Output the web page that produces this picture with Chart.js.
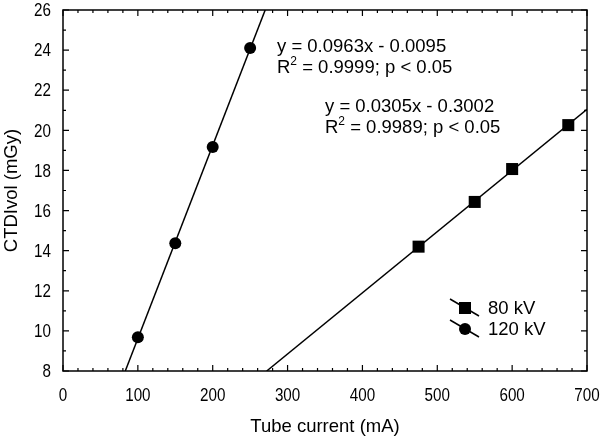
<!DOCTYPE html>
<html>
<head>
<meta charset="utf-8">
<script src="https://cdn.jsdelivr.net/npm/chart.js@4.4.1/dist/chart.umd.min.js"></script>
<style>
  html, body { margin: 0; padding: 0; background: #fff; }
  #wrap { width: 600px; height: 442px; }
</style>
</head>
<body>
<div id="wrap"><canvas id="graph"></canvas></div>
<script>
// values
const current80 = [475, 550, 600, 675];
const ctdi80 = [14.2, 16.43, 18.07, 20.26];
const current120 = [100, 150, 200, 250];
const ctdi120 = [9.68, 14.37, 19.17, 24.1];

// regression lines, end points where they leave the frame
const fit80X = [272.1, 700];
const fit80Y = [8, 21.05];
const fit120X = [83.2, 270.1];
const fit120Y = [8, 26];

const seriesNames = ['80 kV', '120 kV'];
const fitText = [
  ['y = 0.0963x - 0.0095', 'R', '2', ' = 0.9999; p < 0.05'],
  ['y = 0.0305x - 0.3002', 'R', '2', ' = 0.9989; p < 0.05']
];

const xMin = 0, xMax = 700, xMajor = 100, xMinor = 20;
const yMin = 8, yMax = 26, yMajor = 2, yMinor = 1;

const FONT = '"Liberation Sans", Arial, Helvetica, sans-serif';

function pts(xs, ys) {
  return xs.map((x, i) => ({ x: x, y: ys[i] }));
}

// tick labels in the figure are a condensed face: squeeze them sideways
function narrowText(ctx, text, x, y, align) {
  ctx.save();
  ctx.translate(x, y);
  ctx.scale(0.8, 1);
  ctx.textAlign = align;
  ctx.fillText(text, 0, 0);
  ctx.restore();
}

// frame, inward ticks on all four sides, tick labels, fit labels, legend
const decorations = {
  id: 'decorations',
  afterDraw(chart) {
    const ctx = chart.ctx;
    const a = chart.chartArea;
    const xs = chart.scales.x, ys = chart.scales.y;
    ctx.save();
    ctx.strokeStyle = '#000';
    ctx.fillStyle = '#000';
    ctx.lineWidth = 1.5;
    ctx.strokeRect(a.left, a.top, a.right - a.left, a.bottom - a.top);

    ctx.lineWidth = 1.2;
    ctx.beginPath();
    for (let v = xMin; v <= xMax; v += xMinor) {
      const px = xs.getPixelForValue(v);
      const len = v % xMajor === 0 ? 6 : 3;
      ctx.moveTo(px, a.bottom); ctx.lineTo(px, a.bottom - len);
      ctx.moveTo(px, a.top); ctx.lineTo(px, a.top + len);
    }
    for (let v = yMin; v <= yMax; v += yMinor) {
      const py = ys.getPixelForValue(v);
      const len = v % yMajor === 0 ? 6 : 3;
      ctx.moveTo(a.left, py); ctx.lineTo(a.left + len, py);
      ctx.moveTo(a.right, py); ctx.lineTo(a.right - len, py);
    }
    ctx.stroke();

    ctx.textBaseline = 'middle';
    ctx.font = '19px ' + FONT;
    xs.ticks.forEach(t => narrowText(ctx, t.label, xs.getPixelForValue(t.value), a.bottom + 25, 'center'));
    ys.ticks.forEach(t => narrowText(ctx, t.label, a.left - 12, ys.getPixelForValue(t.value) + 1, 'right'));

    // regression labels
    ctx.textAlign = 'left';
    const spots = [[a.left + 214, a.top + 37], [a.left + 262, a.top + 97]];
    fitText.forEach((t, i) => {
      const x = spots[i][0], y = spots[i][1];
      ctx.font = '18.5px ' + FONT;
      ctx.fillText(t[0], x, y);
      ctx.fillText(t[1], x, y + 21);
      let w = ctx.measureText(t[1]).width;
      ctx.font = '12px ' + FONT;
      ctx.fillText(t[2], x + w, y + 15);
      w += ctx.measureText(t[2]).width;
      ctx.font = '18.5px ' + FONT;
      ctx.fillText(t[3], x + w, y + 21);
    });

    // legend
    const lx = a.right - 122;
    const rows = [a.top + 298, a.top + 319];
    chart.data.datasets.filter(d => d.legendRow !== undefined).forEach(d => {
      const cy = rows[d.legendRow];
      ctx.lineWidth = 1.5;
      ctx.beginPath();
      ctx.moveTo(lx - 15, cy - 9);
      ctx.lineTo(lx + 14, cy + 8);
      ctx.stroke();
      Chart.helpers.drawPoint(ctx, {
        pointStyle: d.pointStyle, radius: d.pointRadius, rotation: 0, borderWidth: 0
      }, lx, cy);
      ctx.font = '18.5px ' + FONT;
      ctx.fillText(d.label, lx + 23, cy + 1);
    });
    ctx.restore();
  }
};

new Chart(document.getElementById('graph'), {
  type: 'scatter',
  data: {
    datasets: [
      {
        label: seriesNames[0], data: pts(current80, ctdi80), legendRow: 0,
        pointStyle: 'rect', pointRadius: 8.5, backgroundColor: '#000', borderColor: '#000', borderWidth: 0
      },
      {
        label: seriesNames[1], data: pts(current120, ctdi120), legendRow: 1,
        pointStyle: 'circle', pointRadius: 6, backgroundColor: '#000', borderColor: '#000', borderWidth: 0
      },
      {
        label: 'fit80', data: pts(fit80X, fit80Y), showLine: true, pointRadius: 0,
        borderColor: '#000', borderWidth: 1.5
      },
      {
        label: 'fit120', data: pts(fit120X, fit120Y), showLine: true, pointRadius: 0,
        borderColor: '#000', borderWidth: 1.5
      }
    ]
  },
  options: {
    responsive: true,
    maintainAspectRatio: false,
    animation: false,
    layout: { padding: { top: 10, right: 13, left: 0, bottom: 0 } },
    plugins: { legend: { display: false }, tooltip: { enabled: false } },
    scales: {
      x: {
        type: 'linear', min: xMin, max: xMax,
        grid: { display: false, drawTicks: false },
        border: { display: false },
        ticks: { stepSize: xMajor, display: false },
        title: { display: true, text: 'Tube current (mA)', color: '#000', padding: { top: 4, bottom: 4 }, font: { family: FONT, size: 18.5 } },
        afterFit(s) { s.height = 71; s.paddingLeft = 0; s.paddingRight = 0; }
      },
      y: {
        type: 'linear', min: yMin, max: yMax,
        grid: { display: false, drawTicks: false },
        border: { display: false },
        ticks: { stepSize: yMajor, display: false },
        title: { display: true, text: 'CTDIvol (mGy)', color: '#000', padding: { top: 1, bottom: 1 }, font: { family: FONT, size: 18.5 } },
        afterFit(s) { s.width = 63; s.paddingTop = 0; s.paddingBottom = 0; }
      }
    }
  },
  plugins: [decorations]
});
</script>
</body>
</html>
